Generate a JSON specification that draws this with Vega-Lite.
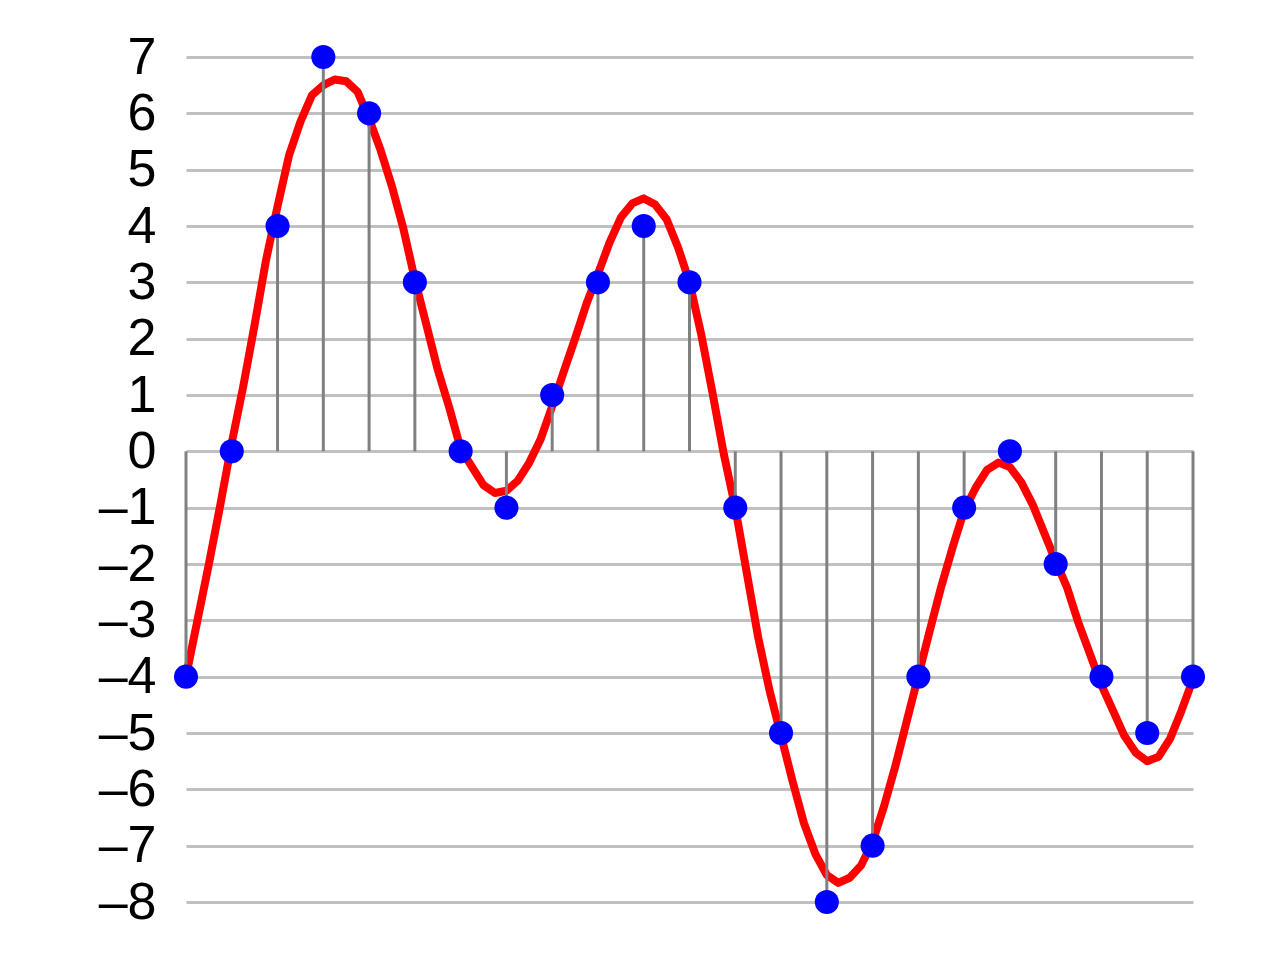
{
  "$schema": "https://vega.github.io/schema/vega-lite/v6.json",
  "width": 1007,
  "height": 845,
  "autosize": "none",
  "padding": {"left": 186, "top": 57, "right": 87, "bottom": 58},
  "background": "white",
  "config": {"view": {"stroke": null}},
  "datasets": {
    "samples": [
      {"n": 0, "value": -4}, {"n": 1, "value": 0}, {"n": 2, "value": 4}, {"n": 3, "value": 7},
      {"n": 4, "value": 6}, {"n": 5, "value": 3}, {"n": 6, "value": 0}, {"n": 7, "value": -1},
      {"n": 8, "value": 1}, {"n": 9, "value": 3}, {"n": 10, "value": 4}, {"n": 11, "value": 3},
      {"n": 12, "value": -1}, {"n": 13, "value": -5}, {"n": 14, "value": -8}, {"n": 15, "value": -7},
      {"n": 16, "value": -4}, {"n": 17, "value": -1}, {"n": 18, "value": 0}, {"n": 19, "value": -2},
      {"n": 20, "value": -4}, {"n": 21, "value": -5}, {"n": 22, "value": -4}
    ],
    "curve": [
      {"t": 0, "v": -4.0}, {"t": 0.25, "v": -3.0}, {"t": 0.5, "v": -2.0}, {"t": 0.75, "v": -0.95},
      {"t": 1.0, "v": 0.15}, {"t": 1.25, "v": 1.15}, {"t": 1.5, "v": 2.25}, {"t": 1.75, "v": 3.4},
      {"t": 2.0, "v": 4.35}, {"t": 2.25, "v": 5.25}, {"t": 2.5, "v": 5.85}, {"t": 2.75, "v": 6.32},
      {"t": 3.0, "v": 6.5}, {"t": 3.25, "v": 6.6}, {"t": 3.5, "v": 6.57}, {"t": 3.75, "v": 6.38},
      {"t": 4.0, "v": 5.9}, {"t": 4.25, "v": 5.35}, {"t": 4.5, "v": 4.7}, {"t": 4.75, "v": 3.95},
      {"t": 5.0, "v": 3.05}, {"t": 5.25, "v": 2.25}, {"t": 5.5, "v": 1.45}, {"t": 5.75, "v": 0.78},
      {"t": 6.0, "v": 0.05}, {"t": 6.25, "v": -0.28}, {"t": 6.5, "v": -0.6}, {"t": 6.75, "v": -0.74},
      {"t": 7.0, "v": -0.7}, {"t": 7.25, "v": -0.52}, {"t": 7.5, "v": -0.2}, {"t": 7.75, "v": 0.22},
      {"t": 8.0, "v": 0.8}, {"t": 8.25, "v": 1.41}, {"t": 8.5, "v": 2.0}, {"t": 8.75, "v": 2.62},
      {"t": 9.0, "v": 3.15}, {"t": 9.25, "v": 3.7}, {"t": 9.5, "v": 4.15}, {"t": 9.75, "v": 4.4},
      {"t": 10.0, "v": 4.49}, {"t": 10.25, "v": 4.38}, {"t": 10.5, "v": 4.12}, {"t": 10.75, "v": 3.62},
      {"t": 11.0, "v": 3.0}, {"t": 11.25, "v": 2.1}, {"t": 11.5, "v": 1.05}, {"t": 11.75, "v": -0.05},
      {"t": 12.0, "v": -1.0}, {"t": 12.25, "v": -2.15}, {"t": 12.5, "v": -3.3}, {"t": 12.75, "v": -4.25},
      {"t": 13.0, "v": -5.05}, {"t": 13.25, "v": -5.85}, {"t": 13.5, "v": -6.6}, {"t": 13.75, "v": -7.15},
      {"t": 14.0, "v": -7.52}, {"t": 14.25, "v": -7.66}, {"t": 14.5, "v": -7.57}, {"t": 14.75, "v": -7.35},
      {"t": 15.0, "v": -6.93}, {"t": 15.25, "v": -6.3}, {"t": 15.5, "v": -5.58}, {"t": 15.75, "v": -4.78},
      {"t": 16.0, "v": -3.98}, {"t": 16.25, "v": -3.18}, {"t": 16.5, "v": -2.4}, {"t": 16.75, "v": -1.7},
      {"t": 17.0, "v": -1.05}, {"t": 17.25, "v": -0.65}, {"t": 17.5, "v": -0.33}, {"t": 17.75, "v": -0.2},
      {"t": 18.0, "v": -0.28}, {"t": 18.25, "v": -0.55}, {"t": 18.5, "v": -0.95}, {"t": 18.75, "v": -1.45},
      {"t": 19.0, "v": -1.95}, {"t": 19.25, "v": -2.42}, {"t": 19.5, "v": -3.05}, {"t": 19.75, "v": -3.6},
      {"t": 20.0, "v": -4.15}, {"t": 20.25, "v": -4.6}, {"t": 20.5, "v": -5.05}, {"t": 20.75, "v": -5.35},
      {"t": 21.0, "v": -5.5}, {"t": 21.25, "v": -5.42}, {"t": 21.5, "v": -5.1}, {"t": 21.75, "v": -4.6},
      {"t": 22.0, "v": -4.05}
    ]
  },
  "layer": [
    {
      "data": {"name": "curve"},
      "mark": {"type": "line", "color": "#ff0000", "strokeWidth": 8, "strokeJoin": "round", "clip": false},
      "encoding": {
        "x": {"field": "t", "type": "quantitative", "scale": {"domain": [0, 22], "nice": false, "zero": false}, "axis": null},
        "y": {"field": "v", "type": "quantitative",
              "scale": {"domain": [-8, 7], "nice": false, "zero": false},
              "axis": {
                "values": [-8, -7, -6, -5, -4, -3, -2, -1, 0, 1, 2, 3, 4, 5, 6, 7],
                "labelExpr": "datum.value < 0 ? '\u2013' + abs(datum.value) : '' + datum.value",
                "grid": true, "gridColor": "#c0c0c0", "gridWidth": 3,
                "domain": false, "ticks": false, "title": null,
                "labelFont": "Liberation Sans", "labelFontSize": 52, "labelColor": "#000000",
                "labelPadding": 30
              }}
      }
    },
    {
      "data": {"name": "samples"},
      "mark": {"type": "rule", "color": "#808080", "strokeWidth": 3},
      "encoding": {
        "x": {"field": "n", "type": "quantitative"},
        "y": {"field": "value", "type": "quantitative"},
        "y2": {"datum": 0}
      }
    },
    {
      "data": {"name": "samples"},
      "mark": {"type": "circle", "color": "#0000ff", "size": 580, "opacity": 1},
      "encoding": {
        "x": {"field": "n", "type": "quantitative"},
        "y": {"field": "value", "type": "quantitative"}
      }
    }
  ]
}
